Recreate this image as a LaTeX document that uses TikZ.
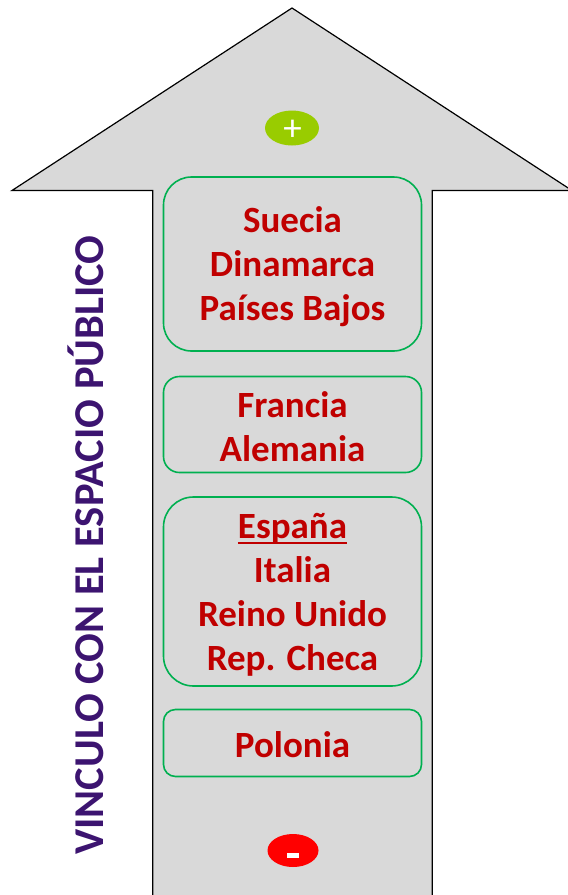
\documentclass[tikz,border=0pt]{standalone}
\usepackage{fontspec}
\setmainfont{Carlito}
\usetikzlibrary{shapes.geometric}
\definecolor{arrowgray}{HTML}{D9D9D9}
\definecolor{boxgreen}{HTML}{00B050}
\definecolor{txtred}{HTML}{C00000}
\definecolor{plusgreen}{HTML}{99CC00}
\definecolor{minusred}{HTML}{FF0000}
\definecolor{titlepurple}{RGB}{60,20,112}
\newcommand\thickul[1]{\setbox0\hbox{#1}\rlap{\raisebox{-6pt}{\rule{\wd0}{1.8pt}}}\box0}
\begin{document}
\begin{tikzpicture}[x=1pt,y=-1pt,
  countrybox/.style={draw=boxgreen, line width=1.6pt, fill=arrowgray, minimum width=258pt,
    inner sep=0pt},
  countrytext/.style={text=txtred, align=center, font=\fontsize{37}{44}\selectfont\bfseries},
  signoval/.style={ellipse, draw=none, minimum width=54pt, minimum height=35pt, inner sep=0pt}]
\useasboundingbox (0,0) rectangle (568,895);
% big arrow
\draw[fill=arrowgray, draw=black, line width=1.2pt, line join=miter]
  (152.7,900) -- (152.7,190.5) -- (12,190.5) -- (292,8) -- (572,190.5) -- (432.3,190.5) -- (432.3,900);
% boxes
\node[countrybox, minimum height=174pt, rounded corners=28pt] (b1) at (292.5,264) {};
\node[countrytext] (t1) at (292.5,266.5) {Suecia\\Dinamarca\\Países Bajos};
\node[countrybox, minimum height=96pt, rounded corners=16pt] (b2) at (292.5,424.5) {};
\node[countrytext] (t2) at (292.5,427) {Francia\\Alemania};
\node[countrybox, minimum height=189pt, rounded corners=30pt] (b3) at (292.5,591.5) {};
\node[countrytext] (t3) at (292.5,594.5) {\thickul{España}\\Italia\\Reino Unido\\Rep. Checa};
\node[countrybox, minimum height=67pt, rounded corners=12pt] (b4) at (292.5,743) {};
\node[countrytext] (t4) at (292.5,745) {Polonia};
% signs
\node[signoval, fill=plusgreen] (plus) at (292,128) {};
\node[text=white, font=\fontsize{37}{37}\selectfont, inner sep=0pt] (plustext) at (292.5,130.5) {+};
\node[signoval, fill=minusred, minimum width=51pt, minimum height=33pt] (minus) at (293,850.5) {};
\fill[white] (287,853) rectangle (299,857.5);
% vertical title
\node[rotate=90, text=titlepurple, font=\fontsize{42.5}{42.5}\selectfont\bfseries, inner sep=0pt]
  (title) at (86,545) {VINCULO CON EL ESPACIO PÚBLICO};
\end{tikzpicture}
\end{document}
